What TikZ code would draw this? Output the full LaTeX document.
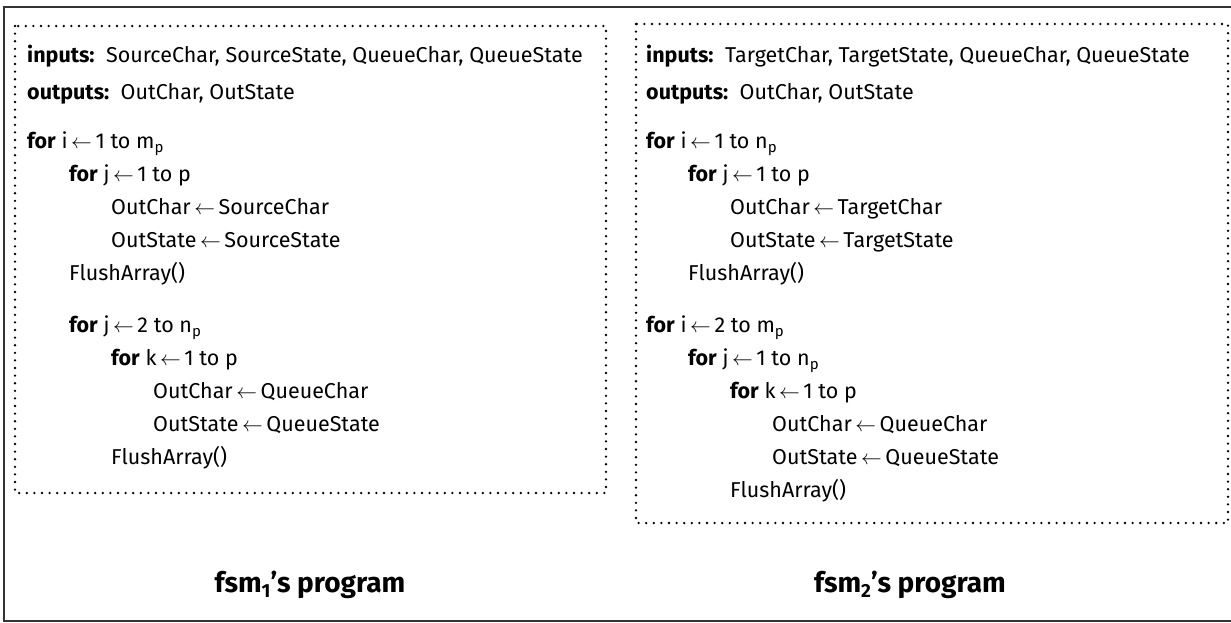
\documentclass[tikz,border=0pt]{standalone}
\usepackage{fontspec}
\setmainfont{Fira Sans}
\begin{document}
\begin{tikzpicture}[x=1pt,y=-1pt,
  code/.style={anchor=base west,inner sep=0pt,font=\fontsize{21.5}{24}\selectfont},
  title/.style={anchor=base,inner sep=0pt,font=\fontsize{28}{32}\selectfont\bfseries},
  dotbox/.style={draw=black,line width=2.6pt,dash pattern=on 0pt off 7.6pt,line cap=round},
  frame/.style={draw=black!80,line width=1.8pt}]
\useasboundingbox (0,0) rectangle (1231,622);
\newcommand\la{\,$\leftarrow$\,}
\newcommand\sbp[1]{\raisebox{-0.4ex}{\fontsize{15}{15}\selectfont #1}}
\newcommand\sbt[1]{\raisebox{-0.4ex}{\fontsize{19}{19}\selectfont #1}}
% outer frame
\draw[frame] (1240,7) -- (4,7) -- (4,621) -- (1240,621);
% dotted boxes
\draw[dotbox] (15,26) rectangle (606,493);
\draw[dotbox] (636,24) rectangle (1228,523);
% left program
\node[code] (l1) at (27,62) {\textbf{inputs:}\ \ SourceChar, SourceState, QueueChar, QueueState};
\node[code] (l2) at (27,99) {\textbf{outputs:}\ \ OutChar, OutState};
\node[code] (l3) at (27,148) {\textbf{for} i\la 1 to m\sbp{p}};
\node[code] (l4) at (69,181) {\textbf{for} j\la 1 to p};
\node[code] (l5) at (111,214) {OutChar\la SourceChar};
\node[code] (l6) at (111,247) {OutState\la SourceState};
\node[code] (l7) at (69,280) {FlushArray()};
\node[code] (l8) at (69,332) {\textbf{for} j\la 2 to n\sbp{p}};
\node[code] (l9) at (111,365) {\textbf{for} k\la 1 to p};
\node[code] (l10) at (153,398) {OutChar\la QueueChar};
\node[code] (l11) at (153,431) {OutState\la QueueState};
\node[code] (l12) at (111,464) {FlushArray()};
% right program
\node[code] (r1) at (646,62) {\textbf{inputs:}\ \ TargetChar, TargetState, QueueChar, QueueState};
\node[code] (r2) at (646,99) {\textbf{outputs:}\ \ OutChar, OutState};
\node[code] (r3) at (646,148) {\textbf{for} i\la 1 to n\sbp{p}};
\node[code] (r4) at (688,181) {\textbf{for} j\la 1 to p};
\node[code] (r5) at (730,214) {OutChar\la TargetChar};
\node[code] (r6) at (730,247) {OutState\la TargetState};
\node[code] (r7) at (688,280) {FlushArray()};
\node[code] (r8) at (646,332) {\textbf{for} i\la 2 to m\sbp{p}};
\node[code] (r9) at (688,365) {\textbf{for} j\la 1 to n\sbp{p}};
\node[code] (r10) at (730,398) {\textbf{for} k\la 1 to p};
\node[code] (r11) at (772,431) {OutChar\la QueueChar};
\node[code] (r12) at (772,464) {OutState\la QueueState};
\node[code] (r13) at (730,497) {FlushArray()};
% titles
\node[title] (t1) at (310,592) {fsm\sbt{1}’s program};
\node[title] (t2) at (910,592) {fsm\sbt{2}’s program};
\end{tikzpicture}
\end{document}
